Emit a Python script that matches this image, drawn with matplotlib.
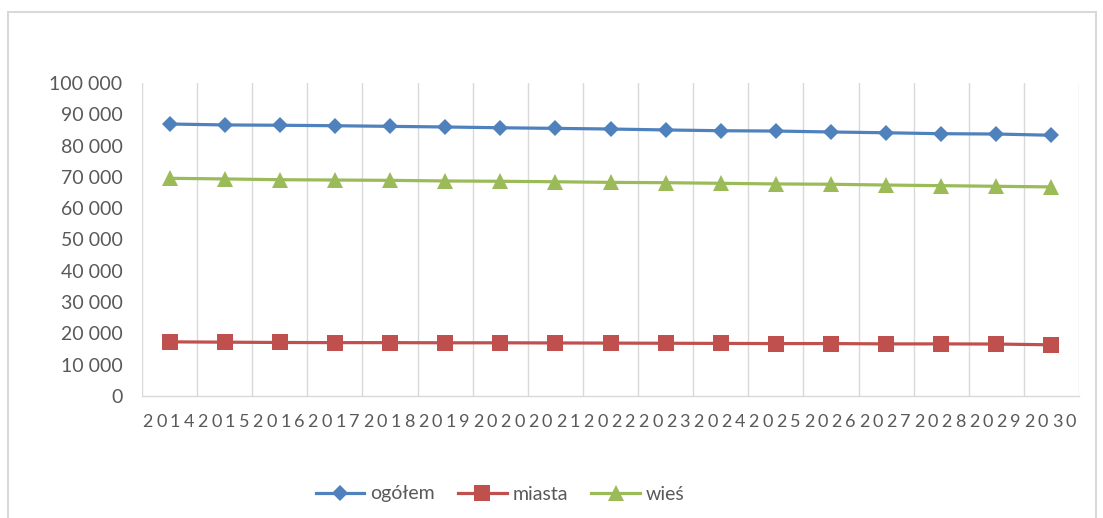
import numpy as np
import matplotlib
matplotlib.use("Agg")
import matplotlib.pyplot as plt
from matplotlib.patches import Rectangle
from matplotlib.ticker import FuncFormatter
from matplotlib.transforms import blended_transform_factory

plt.rcParams["font.family"] = ["Lato", "DejaVu Sans"]

years = list(range(2014, 2031))
ogolem = [86900, 86600, 86500, 86350, 86150, 85950, 85700, 85500, 85300,
          85000, 84750, 84650, 84350, 84100, 83800, 83700, 83300]
miasta = [17300, 17200, 17100, 17050, 17050, 17000, 17000, 16950, 16900,
          16850, 16800, 16750, 16750, 16650, 16650, 16600, 16350]
wies = [69550, 69350, 69100, 69000, 68900, 68700, 68600, 68450, 68250,
        68150, 67950, 67750, 67650, 67400, 67200, 67000, 66800]

series = [
    ("ogółem", ogolem, "#4f81bd", "D", 8.6),
    ("miasta", miasta, "#c0504d", "s", 12),
    ("wieś", wies, "#9bbb59", "^", 11.5),
]

GREY_TXT = "#595959"
GRID = "#d9d9d9"

W, H = 1103, 518
fig = plt.figure(figsize=(W / 100, H / 100), dpi=100)

# outer chart frame
fig.patches.append(Rectangle((8 / W, -0.05), 1088 / W, 1.05 - 12 / H,
                             transform=fig.transFigure, fill=False,
                             edgecolor=GRID, lw=1.5))

ax = fig.add_axes([142 / W, 1 - 396 / H, 937 / W, 313 / H])
x = np.arange(len(years))
for name, vals, col, mk, ms in series:
    ax.plot(x, vals, color=col, lw=2.3, marker=mk, ms=ms,
            markeredgewidth=0, label=name)

ax.set_xlim(-0.5, len(years) - 0.5)
ax.set_ylim(0, 100000)
ax.set_yticks(range(0, 100001, 10000))
ax.yaxis.set_major_formatter(FuncFormatter(lambda v, p: f"{int(v):,}".replace(",", " ")))

# category boundaries as vertical grid, year digits spread over each category
ax.set_xticks([])
ax.set_xticks(np.arange(len(years) + 1) - 0.5, minor=True)
ax.grid(which="minor", axis="x", color=GRID, lw=1)
ax.tick_params(axis="x", which="both", length=0, labelbottom=False)
ax.tick_params(axis="y", length=0, pad=14, labelsize=14, labelcolor=GREY_TXT)

trans = blended_transform_factory(ax.transData, ax.transAxes)
for i, yr in enumerate(years):
    digits = str(yr)
    for k, ch in enumerate(digits):
        ax.annotate(ch, xy=(i - 0.5 + (k + 0.4) / len(digits), 0), xycoords=trans,
                    xytext=(0, -22), textcoords="offset points",
                    ha="center", va="baseline", fontsize=13, color=GREY_TXT)

for side in ("left", "top", "right"):
    ax.spines[side].set_visible(False)
ax.spines["bottom"].set_color(GRID)
ax.spines["bottom"].set_linewidth(1)

leg = fig.legend(loc="center", bbox_to_anchor=(500 / W, 1 - 494 / H), ncol=3,
                 frameon=False, fontsize=14, handlelength=2.5, handletextpad=0.3,
                 columnspacing=1.2)
for t in leg.get_texts():
    t.set_color(GREY_TXT)

fig.savefig("out.png", dpi=100)
